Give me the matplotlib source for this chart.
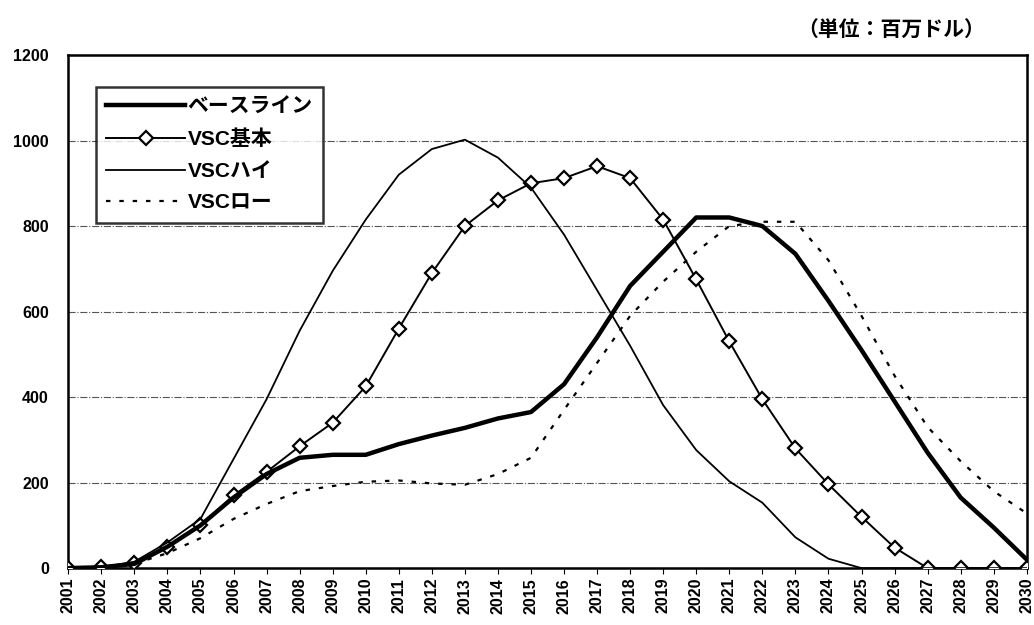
import matplotlib
matplotlib.use("Agg")
import matplotlib.pyplot as plt

plt.rcParams['font.family'] = ['Liberation Sans', 'Noto Sans CJK JP', 'DejaVu Sans']

years = list(range(2001, 2031))

baseline = [0, 2, 10, 50, 100, 165, 220, 258, 265, 265,
            290, 310, 328, 350, 365, 430, 540, 660, 740, 820,
            820, 800, 735, 625, 510, 390, 270, 165, 95, 20]

vsc_base = [0, 2, 12, 50, 100, 170, 225, 285, 340, 425,
            560, 690, 800, 860, 900, 912, 940, 912, 815, 675,
            530, 395, 280, 196, 120, 48, 0, 0, 0, 0]

vsc_high = [0, 2, 15, 60, 115, 255, 395, 555, 695, 815,
            920, 980, 1002, 960, 890, 780, 650, 520, 381, 276,
            203, 153, 72, 22, 0, 0, 0, 0, 0, 0]

vsc_low = [0, 2, 10, 35, 70, 115, 150, 180, 192, 202,
           205, 198, 195, 220, 258, 370, 480, 590, 670, 740,
           800, 810, 810, 720, 590, 450, 330, 250, 180, 128]

fig = plt.figure(figsize=(10.34, 6.25), dpi=100)
ax = fig.add_axes([0.066, 0.091, 0.927, 0.821])

ax.plot(years, baseline, color='black', lw=3.2, label='ベースライン', zorder=4)
ax.plot(years, vsc_base, color='black', lw=1.4, marker='D', markersize=7,
        markerfacecolor='white', markeredgecolor='black', markeredgewidth=1.6,
        label='VSC基本', zorder=3)
ax.plot(years, vsc_high, color='black', lw=1.3, label='VSCハイ', zorder=3)
ax.plot(years, vsc_low, color='black', lw=1.6, linestyle=(0, (2, 4)),
        label='VSCロー', zorder=3)

ax.set_xlim(2001, 2030)
ax.set_ylim(0, 1200)
ax.set_yticks(range(0, 1201, 200))
ax.set_xticks(years)
ax.set_xticklabels([str(y) for y in years], rotation=90, fontweight='bold', fontsize=11.5)
for lab in ax.get_yticklabels():
    lab.set_fontweight('bold')
    lab.set_fontsize(11.5)
ax.tick_params(axis='y', length=0, pad=14)
ax.tick_params(axis='x', length=4, direction='out', pad=3)

ax.grid(axis='y', color='#555555', linestyle='-.', lw=0.8)
for s in ax.spines.values():
    s.set_linewidth(1.8)

leg = ax.legend(loc='upper left', bbox_to_anchor=(0.018, 0.958), handlelength=3.8,
                fontsize=15, frameon=True, fancybox=False, edgecolor='black',
                borderpad=0.5, labelspacing=0.62, handletextpad=0.1)
leg.get_frame().set_linewidth(1.8)
for t in leg.get_texts():
    t.set_fontweight('bold')

fig.text(0.953, 0.95, '（単位：百万ドル）', ha='right', va='center',
         fontsize=15, fontweight='bold')

fig.savefig('out.png', dpi=100)
